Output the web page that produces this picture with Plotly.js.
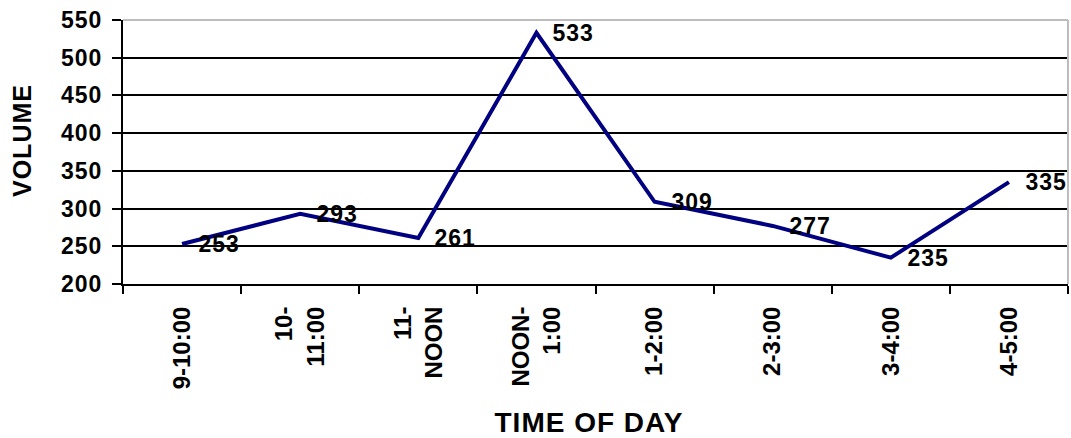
<!DOCTYPE html>
<html>
<head>
<meta charset="utf-8">
<script src="https://cdn.plot.ly/plotly-3.0.1.min.js"></script>
<style>
  html, body { margin: 0; padding: 0; background: #fff; }
  #chart { width: 1071px; height: 438px; }
  /* slightly wider spacing for the horizontal labels */
  #chart .annotation-text, #chart .ytick text { letter-spacing: 1px; }
</style>
</head>
<body>
<div id="chart"></div>
<script>
// Hourly volume through the working day
const timeSlots = ['9-10:00', '10-<br>11:00', '11-<br>NOON', 'NOON-<br>1:00', '1-2:00', '2-3:00', '3-4:00', '4-5:00'];
const volumes = [253, 293, 261, 533, 309, 277, 235, 335];
const yTicks = [200, 250, 300, 350, 400, 450, 500, 550];

const arialBold = 'Liberation Sans, Arial, sans-serif';

const trace = {
  x: timeSlots,
  y: volumes,
  type: 'scatter',
  mode: 'lines',
  line: { color: '#000080', width: 4 },
  hoverinfo: 'x+y'
};

// value labels sit just to the right of each point
const valueLabels = timeSlots.map((slot, i) => ({
  x: slot,
  y: volumes[i],
  xref: 'x',
  yref: 'y',
  text: String(volumes[i]),
  showarrow: false,
  xanchor: 'left',
  yanchor: 'middle',
  xshift: 16,
  font: { family: arialBold, size: 23, color: '#000', weight: 'bold' }
}));

const titles = [
  {
    xref: 'paper', yref: 'paper', x: -0.107, y: 0.545,
    text: 'VOLUME', textangle: -90, showarrow: false,
    xanchor: 'center', yanchor: 'middle',
    font: { family: arialBold, size: 25, color: '#000', weight: 'bold' }
  },
  {
    xref: 'paper', yref: 'paper', x: 0.4926, y: -0.5265,
    text: 'TIME OF DAY', showarrow: false,
    xanchor: 'center', yanchor: 'middle',
    font: { family: arialBold, size: 28, color: '#000', weight: 'bold' }
  }
];

const layout = {
  width: 1071,
  height: 438,
  margin: { l: 123, r: 3, t: 20, b: 154 },
  paper_bgcolor: '#ffffff',
  plot_bgcolor: '#ffffff',
  showlegend: false,
  xaxis: {
    type: 'category',
    range: [-0.5, 7.5],
    tickson: 'boundaries',
    ticks: 'outside',
    ticklen: 8,
    tickwidth: 2,
    tickcolor: '#000',
    tickangle: -90,
    ticklabelstandoff: 11,
    showline: true,
    linecolor: '#000',
    linewidth: 2,
    showgrid: false,
    zeroline: false,
    tickfont: { family: arialBold, size: 24, color: '#000', weight: 'bold' }
  },
  yaxis: {
    range: [200, 550],
    tickvals: yTicks,
    ticktext: yTicks.map(String),
    ticks: 'outside',
    ticklen: 9,
    tickwidth: 2,
    tickcolor: '#000',
    ticklabelstandoff: 5,
    showline: true,
    linecolor: '#000',
    linewidth: 2,
    showgrid: true,
    gridcolor: '#000',
    gridwidth: 2,
    zeroline: false,
    tickfont: { family: arialBold, size: 23, color: '#000', weight: 'bold' }
  },
  shapes: [
    // light frame on the top and right edges of the plot area
    { type: 'line', xref: 'paper', yref: 'paper', x0: 0, x1: 1, y0: 1, y1: 1,
      line: { color: '#bdbdbd', width: 2 } },
    { type: 'line', xref: 'paper', yref: 'paper', x0: 1, x1: 1, y0: 0, y1: 1,
      line: { color: '#bdbdbd', width: 2 } }
  ],
  annotations: valueLabels.concat(titles)
};

Plotly.newPlot('chart', [trace], layout, { displayModeBar: false, staticPlot: true });
</script>
</body>
</html>
